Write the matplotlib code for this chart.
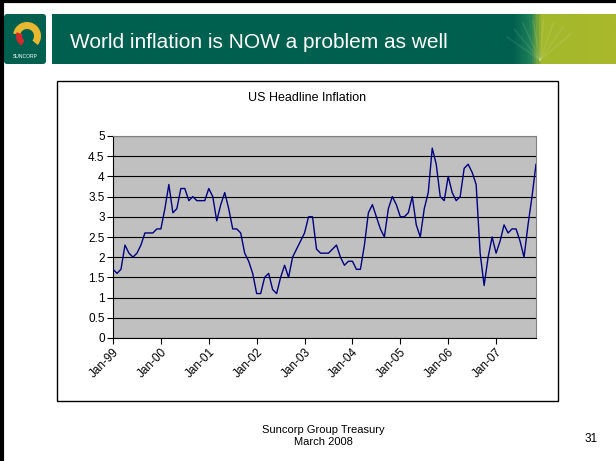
import numpy as np
import matplotlib
matplotlib.use("Agg")
import matplotlib.pyplot as plt
from matplotlib.patches import Rectangle, FancyBboxPatch, Wedge
from matplotlib.colors import LinearSegmentedColormap

plt.rcParams["font.family"] = ["Liberation Sans", "DejaVu Sans"]

# US CPI, year-on-year %, monthly from Jan-99 to Nov-07
cpi_1999 = [1.7, 1.6, 1.7, 2.3, 2.1, 2.0, 2.1, 2.3, 2.6, 2.6, 2.6, 2.7]
cpi_2000 = [2.7, 3.2, 3.8, 3.1, 3.2, 3.7, 3.7, 3.4, 3.5, 3.4, 3.4, 3.4]
cpi_2001 = [3.7, 3.5, 2.9, 3.3, 3.6, 3.2, 2.7, 2.7, 2.6, 2.1, 1.9, 1.6]
cpi_2002 = [1.1, 1.1, 1.5, 1.6, 1.2, 1.1, 1.5, 1.8, 1.5, 2.0, 2.2, 2.4]
cpi_2003 = [2.6, 3.0, 3.0, 2.2, 2.1, 2.1, 2.1, 2.2, 2.3, 2.0, 1.8, 1.9]
cpi_2004 = [1.9, 1.7, 1.7, 2.3, 3.1, 3.3, 3.0, 2.7, 2.5, 3.2, 3.5, 3.3]
cpi_2005 = [3.0, 3.0, 3.1, 3.5, 2.8, 2.5, 3.2, 3.6, 4.7, 4.3, 3.5, 3.4]
cpi_2006 = [4.0, 3.6, 3.4, 3.5, 4.2, 4.3, 4.1, 3.8, 2.1, 1.3, 2.0, 2.5]
cpi_2007 = [2.1, 2.4, 2.8, 2.6, 2.7, 2.7, 2.4, 2.0, 2.8, 3.5, 4.3]

year_labels = ["Jan-99", "Jan-00", "Jan-01", "Jan-02", "Jan-03",
               "Jan-04", "Jan-05", "Jan-06", "Jan-07"]
y_ticks = [0, 0.5, 1, 1.5, 2, 2.5, 3, 3.5, 4, 4.5, 5]

cpi = (cpi_1999 + cpi_2000 + cpi_2001 + cpi_2002 + cpi_2003
       + cpi_2004 + cpi_2005 + cpi_2006 + cpi_2007)
months = np.arange(len(cpi))

W, H = 616, 461
fig = plt.figure(figsize=(W / 100, H / 100), dpi=100)
fig.patch.set_facecolor("white")

# slide background layer in pixel coordinates
bg = fig.add_axes([0, 0, 1, 1])
bg.set_xlim(0, W)
bg.set_ylim(H, 0)
bg.axis("off")

# header bar: dark teal fading into lime on the right
grad = LinearSegmentedColormap.from_list(
    "hdr", [(0, "#00604f"), (0.82, "#00604f"), (0.85, "#1f8058"),
            (0.87, "#a3b82c"), (1, "#a9b92a")])
bar = np.linspace(0, 1, 600).reshape(1, -1)
bg.imshow(bar, cmap=grad, aspect="auto", extent=(52, W, 64, 14), zorder=1)
for ang in np.linspace(215, 320, 8):
    a = np.radians(ang)
    bg.plot([540, 540 + 40 * np.cos(a)], [60, 60 + 40 * np.sin(a)],
            color="white", alpha=0.09, lw=1.2, zorder=2)
bg.text(70, 42, "World inflation is NOW a problem as well", color="white",
        fontsize=15, va="center", ha="left", zorder=3)

# logo tile
bg.add_patch(FancyBboxPatch((4, 14), 42, 50, boxstyle="round,pad=0,rounding_size=3",
                            facecolor="#00604f", edgecolor="none", zorder=2))
bg.add_patch(Wedge((27, 36), 14, 190, 40, width=7, facecolor="#e8b830",
                   edgecolor="none", zorder=3))
bg.add_patch(Wedge((27, 36), 11, 120, 200, width=6, facecolor="#d42a2a",
                   edgecolor="none", zorder=3))
bg.text(25, 57, "SUNCORP", color="white", fontsize=3.6, ha="center",
        va="center", zorder=3)

# slide edge
bg.plot([1, W], [1.5, 1.5], color="black", lw=3, zorder=4)
bg.plot([1.5, 1.5], [0, H], color="black", lw=3, zorder=4)

# chart frame
bg.add_patch(Rectangle((57, 81), 501, 320, facecolor="white",
                       edgecolor="black", lw=1, zorder=1))
bg.text(307, 98, "US Headline Inflation", fontsize=9, ha="center", va="center")

# footer
bg.text(323, 436, "Suncorp Group Treasury\nMarch 2008", fontsize=8,
        ha="center", va="center", linespacing=1.15)
bg.text(591, 439, "31", fontsize=8.5, ha="center", va="center")

# plot area
x0, x1, y0, y1 = 113, 536, 136, 338
ax = fig.add_axes([x0 / W, 1 - y1 / H, (x1 - x0) / W, (y1 - y0) / H])
ax.set_facecolor("#c0c0c0")
ax.plot(months, cpi, color="#000080", lw=1.0, zorder=3)
ax.set_xlim(0, len(cpi) - 1)
ax.set_ylim(0, 5)
ax.set_yticks(y_ticks)
ax.set_yticklabels([f"{v:g}" for v in y_ticks], fontsize=8.5)
ax.set_xticks(np.arange(len(year_labels)) * 12)
ax.set_xticklabels(year_labels, fontsize=8.5, rotation=45, ha="right",
                   rotation_mode="anchor")
ax.yaxis.grid(True, color="black", lw=0.8)
ax.set_axisbelow(True)
ax.tick_params(direction="out", length=4, width=0.8, color="black", pad=2)
for side in ("top", "right"):
    ax.spines[side].set_color("#808080")
for side in ("left", "bottom"):
    ax.spines[side].set_color("black")

fig.savefig("out.png", dpi=100)
